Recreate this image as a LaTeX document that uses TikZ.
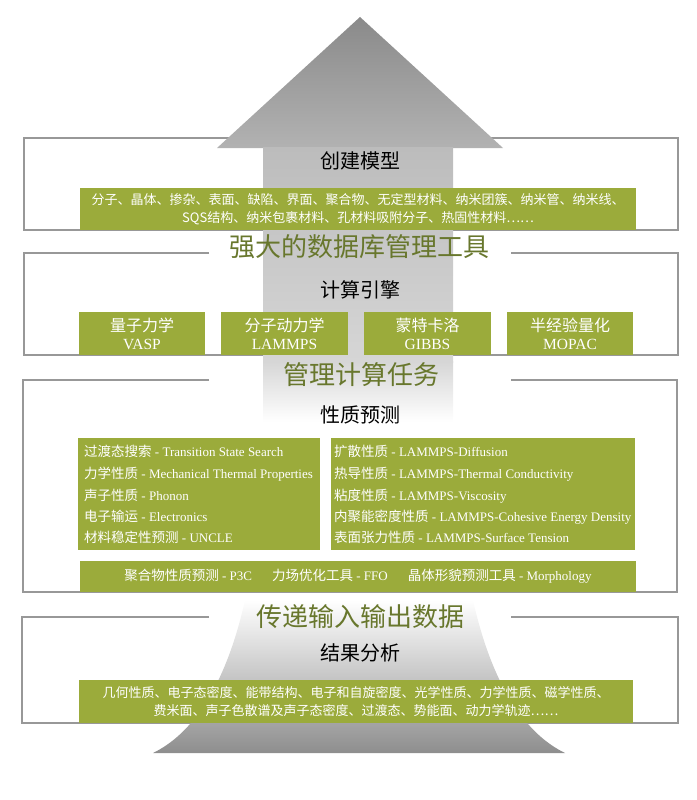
\documentclass[tikz,border=0pt]{standalone}
\usepackage{fontspec}
\setmainfont{Liberation Serif}
\newfontfamily\zhfont{Noto Sans CJK SC}
\newcommand{\zht}[1]{{\zhfont #1}}
\usetikzlibrary{positioning}
\definecolor{olivebox}{RGB}{155,171,59}
\definecolor{olivetitle}{RGB}{104,119,45}
\definecolor{framegray}{RGB}{152,152,152}
\definecolor{arrowtip}{RGB}{138,138,138}
\definecolor{arrowbase}{RGB}{178,178,178}
\definecolor{shaftA}{RGB}{188,188,188}
\definecolor{shaftB}{RGB}{214,214,214}
\definecolor{baseC}{RGB}{142,142,142}
\tikzset{
  panel/.style={draw=framegray,line width=1.3pt},
  gbox/.style={fill=olivebox,text=white,inner sep=0pt,align=center},
  bigtitle/.style={text=olivetitle,font=\zhfont\fontsize{26}{26}\selectfont,inner sep=0pt},
  subtitle/.style={font=\zhfont\fontsize{20}{20}\selectfont,inner sep=0pt},
  gtext/.style={font=\zhfont\fontsize{13}{18}\selectfont},
  etext/.style={font=\fontsize{15.5}{18}\selectfont},
  ptext/.style={text=white,font=\fontsize{13}{16}\selectfont,anchor=west,inner sep=0pt,text height=10pt,text depth=3pt}
}
\begin{document}
\begin{tikzpicture}[x=1pt,y=-1pt]
  \useasboundingbox (0,0) rectangle (696,800);
  % frames
  \draw[panel] (24,138) rectangle (678,230);
  \draw[panel] (209,253) -- (24,253) -- (24,355) -- (678,355) -- (678,253) -- (511,253);
  \draw[panel] (209,380) -- (23,380) -- (23,592) -- (677,592) -- (677,380) -- (511,380);
  \draw[panel] (209,617) -- (22,617) -- (22,723) -- (678,723) -- (678,617) -- (511,617);
  % big arrow
  \shade[top color=arrowtip,bottom color=arrowbase] (360,17) -- (503,148) -- (217,148) -- cycle;
  \shade[top color=shaftA,bottom color=shaftB] (263,147.5) rectangle (453,362);
  \shade[top color=shaftB,bottom color=white] (263,361.5) rectangle (453,422);
  \shade[top color=white,bottom color=baseC] (245,600) .. controls (225,690) and (190,735) .. (153,753)
    -- (565,753) .. controls (528,735) and (493,690) .. (473,600) -- cycle;
  % build models
  \node[subtitle] (build) at (360,161) {创建模型};
  \node[gbox,gtext,minimum width=556pt,minimum height=42pt] (models) at (358,209)
    {分子、晶体、掺杂、表面、缺陷、界面、聚合物、无定型材料、纳米团簇、纳米管、纳米线、\\SQS结构、纳米包裹材料、孔材料吸附分子、热固性材料……};
  \node[bigtitle] (dbtool) at (359,247) {强大的数据库管理工具};
  % engines
  \node[subtitle] (engine) at (360,290) {计算引擎};
  \node[gbox,etext,minimum width=126pt,minimum height=43pt] (qm) at (142,333.5) {\zht{\fontsize{16}{18}\selectfont 量子力学}\\VASP};
  \node[gbox,etext,minimum width=127pt,minimum height=43pt] (md) at (284.5,333.5) {\zht{\fontsize{16}{18}\selectfont 分子动力学}\\LAMMPS};
  \node[gbox,etext,minimum width=127pt,minimum height=43pt] (mc) at (427.5,333.5) {\zht{\fontsize{16}{18}\selectfont 蒙特卡洛}\\GIBBS};
  \node[gbox,etext,minimum width=126pt,minimum height=43pt] (se) at (570,333.5) {\zht{\fontsize{16}{18}\selectfont 半经验量化}\\MOPAC};
  \node[bigtitle] (tasks) at (361,375) {管理计算任务};
  % property prediction
  \node[subtitle] (predict) at (360,415) {性质预测};
  \node[gbox,minimum width=242pt,minimum height=112pt] (pleft) at (199,494) {};
  \node[gbox,minimum width=304pt,minimum height=112pt] (pright) at (483,494) {};
  \node[ptext] (l1) at (84,453) {\zht{\fontsize{13.5}{16}\selectfont 过渡态搜索} - Transition State Search};
  \node[ptext] (l2) at (84,475) {\zht{\fontsize{13.5}{16}\selectfont 力学性质} - Mechanical Thermal Properties};
  \node[ptext] (l3) at (84,497) {\zht{\fontsize{13.5}{16}\selectfont 声子性质} - Phonon};
  \node[ptext] (l4) at (84,518) {\zht{\fontsize{13.5}{16}\selectfont 电子输运} - Electronics};
  \node[ptext] (l5) at (84,539) {\zht{\fontsize{13.5}{16}\selectfont 材料稳定性预测} - UNCLE};
  \node[ptext] (r1) at (334,453) {\zht{\fontsize{13.5}{16}\selectfont 扩散性质} - LAMMPS-Diffusion};
  \node[ptext] (r2) at (334,475) {\zht{\fontsize{13.5}{16}\selectfont 热导性质} - LAMMPS-Thermal Conductivity};
  \node[ptext] (r3) at (334,497) {\zht{\fontsize{13.5}{16}\selectfont 粘度性质} - LAMMPS-Viscosity};
  \node[ptext] (r4) at (334,518) {\zht{\fontsize{13.5}{16}\selectfont 内聚能密度性质} - LAMMPS-Cohesive Energy Density};
  \node[ptext] (r5) at (334,539) {\zht{\fontsize{13.5}{16}\selectfont 表面张力性质} - LAMMPS-Surface Tension};
  \node[gbox,font=\fontsize{13}{16}\selectfont,minimum width=556pt,minimum height=31pt] (tools) at (358,576.5)
    {\zht{\fontsize{13.5}{16}\selectfont 聚合物性质预测} - P3C\hspace{20pt}\zht{\fontsize{13.5}{16}\selectfont 力场优化工具} - FFO\hspace{20pt}\zht{\fontsize{13.5}{16}\selectfont 晶体形貌预测工具} - Morphology};
  \node[bigtitle] (iodata) at (360,617) {传递输入输出数据};
  % analysis
  \node[subtitle] (analysis) at (360,653) {结果分析};
  \node[gbox,gtext,minimum width=554pt,minimum height=43pt] (results) at (356,701.5)
    {几何性质、电子态密度、能带结构、电子和自旋密度、光学性质、力学性质、磁学性质、\\费米面、声子色散谱及声子态密度、过渡态、势能面、动力学轨迹……};
\end{tikzpicture}
\end{document}
